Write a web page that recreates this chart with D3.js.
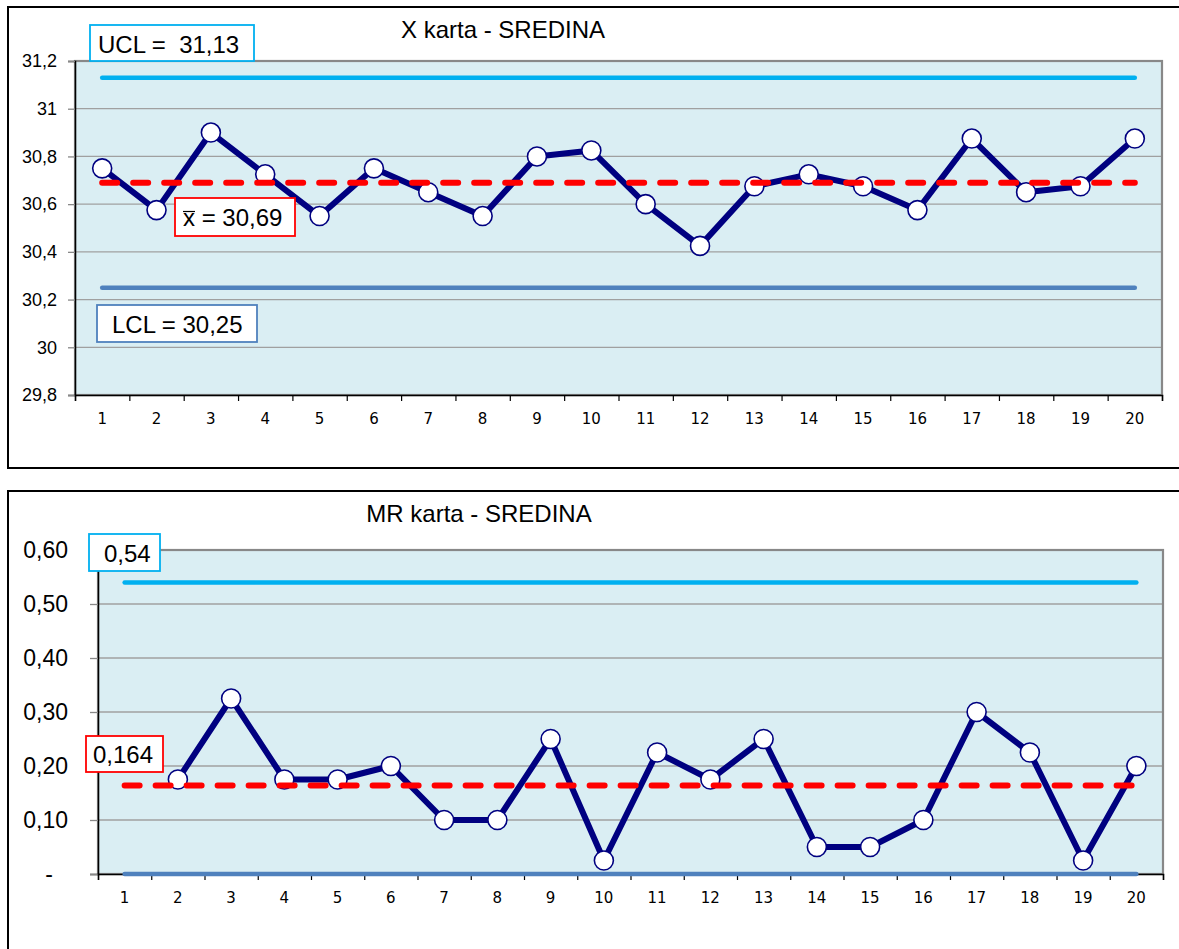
<!DOCTYPE html>
<html><head><meta charset="utf-8">
<script src="https://cdn.jsdelivr.net/npm/d3@7"></script>
<style>html,body{margin:0;padding:0;background:#fff;} svg{display:block;} text{white-space:pre;}</style>
</head><body>
<svg id="chart" width="1179" height="949"></svg>
<script>
// ---------- DATA ----------
const categories = ["1","2","3","4","5","6","7","8","9","10","11","12","13","14","15","16","17","18","19","20"];
const xValues = [30.75, 30.575, 30.9, 30.725, 30.55, 30.75, 30.65, 30.55, 30.8, 30.825,
                 30.6, 30.425, 30.675, 30.725, 30.675, 30.575, 30.875, 30.65, 30.675, 30.875];
const xUCL = 31.13, xMean = 30.69, xLCL = 30.25;
const xYTicks = [29.8, 30, 30.2, 30.4, 30.6, 30.8, 31, 31.2];
const xTitle = "X karta - SREDINA";

const mrValues = [null, 0.175, 0.325, 0.175, 0.175, 0.2, 0.1, 0.1, 0.25, 0.025,
                  0.225, 0.175, 0.25, 0.05, 0.05, 0.1, 0.3, 0.225, 0.025, 0.2];
const mrUCL = 0.54, mrMean = 0.164, mrLCL = 0;
const mrYTicks = [0, 0.1, 0.2, 0.3, 0.4, 0.5, 0.6];
const mrTitle = "MR karta - SREDINA";

// ---------- STYLE ----------
const FONT = "'Liberation Sans', Arial, sans-serif";
const XFONT = "'DejaVu Sans', Verdana, sans-serif";
const C_UCL = "#00B0F0", C_LCL = "#4F81BD", C_MEAN = "#FF0000", C_LINE = "#000080";
const C_BG = "#DAEEF3", C_GRID = "#A0A0A0";

const comma = s => s.replace(".", ",");
const fmtTop = d => { let s = d3.format(".1f")(d); if (s.endsWith(".0")) s = s.slice(0, -2); return comma(s); };
const fmtBot = d => d === 0 ? "-" : comma(d3.format(".2f")(d));
const f2 = d => comma(d3.format(".2f")(d));
const f3 = d => comma(d3.format(".3f")(d));

const svg = d3.select("#chart");

function drawChart(cfg) {
  const g = svg.append("g");
  // outer frame
  g.append("rect").attr("x", cfg.frame.x).attr("y", cfg.frame.y)
    .attr("width", cfg.frame.w).attr("height", cfg.frame.h)
    .attr("fill", "#fff").attr("stroke", "#000").attr("stroke-width", 2);

  const p = cfg.plot;
  const y = d3.scaleLinear().domain(cfg.yDomain).range([p.b, p.t]);
  const xb = d3.scaleBand().domain(categories).range([p.l, p.r]).padding(0);
  const xc = c => xb(c) + xb.bandwidth() / 2;
  const xe = d3.scaleLinear().domain([0, categories.length]).range([p.l, p.r]);

  // plot area
  g.append("rect").attr("x", p.l).attr("y", p.t).attr("width", p.r - p.l).attr("height", p.b - p.t)
    .attr("fill", C_BG);
  // gridlines
  g.append("g").selectAll("line").data(cfg.yTicks.filter(v => v !== cfg.yDomain[0] && v !== cfg.yDomain[1]))
    .join("line").attr("x1", p.l).attr("x2", p.r).attr("y1", d => y(d)).attr("y2", d => y(d))
    .attr("stroke", C_GRID).attr("stroke-width", 1.3);
  // plot border
  g.append("rect").attr("x", p.l).attr("y", p.t).attr("width", p.r - p.l).attr("height", p.b - p.t)
    .attr("fill", "none").attr("stroke", "#888").attr("stroke-width", 2.2);

  // Y axis
  const ya = g.append("g").attr("transform", `translate(${p.l},0)`)
    .call(d3.axisLeft(y).tickValues(cfg.yTicks).tickFormat(cfg.yFmt).tickSize(cfg.yTickSize).tickPadding(cfg.yPad));
  ya.select(".domain").attr("stroke", "#000").attr("stroke-width", 1.5);
  ya.selectAll(".tick line").attr("stroke", "#888").attr("stroke-width", 1.3);
  ya.selectAll(".tick text").attr("font-family", FONT).attr("font-size", cfg.yFont).attr("fill", "#000");
  if (cfg.zeroDx) ya.selectAll(".tick text").filter(d => d === 0).attr("dx", cfg.zeroDx);

  // X axis: boundary ticks
  const xa = g.append("g").attr("transform", `translate(0,${p.b})`)
    .call(d3.axisBottom(xe).tickValues(d3.range(0, categories.length + 1)).tickFormat("").tickSize(6).tickSizeOuter(6));
  xa.select(".domain").attr("stroke", "#000").attr("stroke-width", 1.5);
  xa.selectAll(".tick line").attr("stroke", "#000").attr("stroke-width", 1.2);
  // X labels
  const xl = g.append("g").attr("transform", `translate(0,${p.b})`)
    .call(d3.axisBottom(xb).tickSize(0));
  xl.select(".domain").remove();
  xl.selectAll(".tick text").attr("y", 29).attr("dy", 0)
    .attr("font-family", XFONT).attr("font-size", 15).attr("fill", "#000");

  // limit lines
  const limLine = (v, color) => g.append("line")
    .attr("x1", xc(categories[0])).attr("x2", xc(categories[categories.length - 1]))
    .attr("y1", y(v)).attr("y2", y(v)).attr("stroke", color).attr("stroke-width", 4.5)
    .attr("stroke-linecap", "round");

  limLine(cfg.ucl, C_UCL);

  // data line
  const pts = categories.map((c, i) => ({ c, v: cfg.values[i] }));
  g.append("path").datum(pts)
    .attr("d", d3.line().defined(d => d.v != null).x(d => xc(d.c)).y(d => y(d.v)))
    .attr("fill", "none").attr("stroke", C_LINE).attr("stroke-width", 6).attr("stroke-linejoin", "round");
  g.append("g").selectAll("circle").data(pts.filter(d => d.v != null)).join("circle")
    .attr("cx", d => xc(d.c)).attr("cy", d => y(d.v)).attr("r", 9.5)
    .attr("fill", "#fff").attr("stroke", C_LINE).attr("stroke-width", 1.6);

  limLine(cfg.lcl, C_LCL);
  // mean dashed
  limLine(cfg.mean, C_MEAN).attr("stroke-width", 6).attr("stroke-dasharray", "15,16");

  // title
  g.append("text").attr("x", cfg.title.x).attr("y", cfg.title.y).attr("text-anchor", "middle")
    .attr("font-family", FONT).attr("font-size", 24).attr("fill", "#000").text(cfg.title.text);

  // annotation boxes
  cfg.boxes.forEach(b => {
    g.append("rect").attr("x", b.x).attr("y", b.y).attr("width", b.w).attr("height", b.h)
      .attr("fill", "#fff").attr("stroke", b.color).attr("stroke-width", 1.8);
    const t = g.append("text").attr("x", b.tx).attr("y", b.ty)
      .attr("font-family", FONT).attr("font-size", 24).attr("fill", "#000").text(b.text);
    if (b.overline) {
      const w = t.node().getSubStringLength(0, 1);
      g.append("line").attr("x1", b.tx).attr("x2", b.tx + w)
        .attr("y1", b.ty - 14.5).attr("y2", b.ty - 14.5).attr("stroke", "#000").attr("stroke-width", 1.2);
    }
  });
}

// ---------- X chart ----------
drawChart({
  frame: { x: 8, y: 7, w: 1190, h: 461 },
  plot: { l: 75, t: 61, r: 1162, b: 395 },
  yDomain: [29.8, 31.2], yTicks: xYTicks, yFmt: fmtTop, yTickSize: 7, yPad: 11, yFont: 18,
  values: xValues, ucl: xUCL, mean: xMean, lcl: xLCL,
  title: { x: 503, y: 38, text: xTitle },
  boxes: [
    { x: 90, y: 25, w: 164, h: 36, color: C_UCL, tx: 98, ty: 53, text: "UCL =  " + f2(xUCL) },
    { x: 175, y: 198, w: 120, h: 38, color: C_MEAN, tx: 183, ty: 226, text: "x = " + f2(xMean), overline: true },
    { x: 97, y: 305, w: 160, h: 37, color: C_LCL, tx: 112, ty: 333, text: "LCL = " + f2(xLCL) }
  ]
});

// ---------- MR chart ----------
drawChart({
  frame: { x: 8, y: 491, w: 1190, h: 470 },
  plot: { l: 98, t: 550, r: 1163, b: 874 },
  yDomain: [0, 0.6], yTicks: mrYTicks, yFmt: fmtBot, yTickSize: 8, yPad: 22, yFont: 23, zeroDx: -15,
  values: mrValues, ucl: mrUCL, mean: mrMean, lcl: mrLCL,
  title: { x: 479, y: 522, text: mrTitle },
  boxes: [
    { x: 89, y: 534, w: 71, h: 37, color: C_UCL, tx: 104, ty: 562, text: f2(mrUCL) },
    { x: 86, y: 736, w: 77, h: 36, color: C_MEAN, tx: 93, ty: 763, text: f3(mrMean) }
  ]
});
</script>
</body></html>
